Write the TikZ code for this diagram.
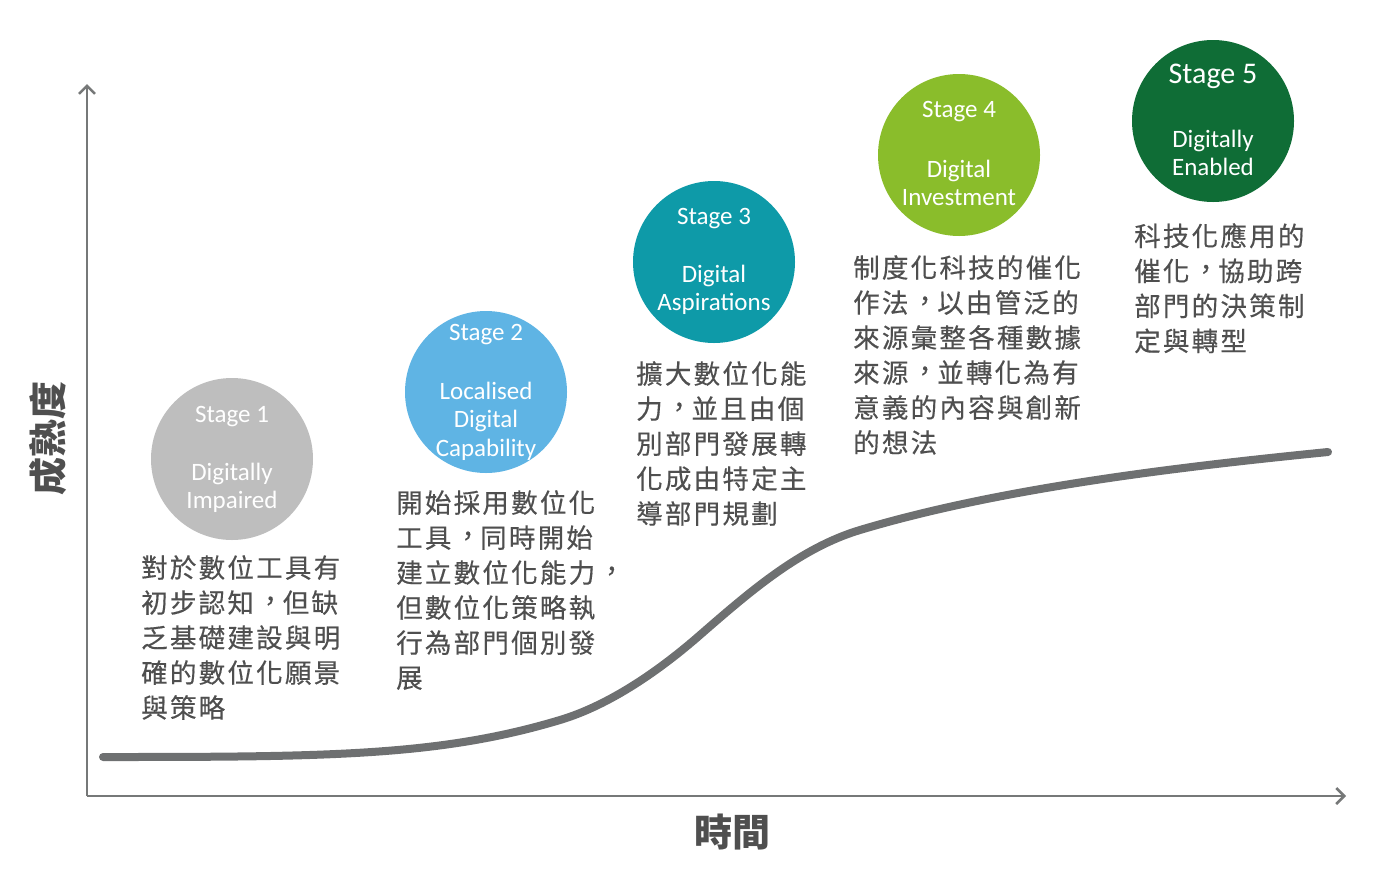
\documentclass[tikz,border=0pt]{standalone}
\usepackage{fontspec}
\newfontfamily\cjk[Script=CJK, Language=Chinese Traditional, LetterSpace=8.5, FakeBold=0.4]{Noto Sans CJK TC}
\newfontfamily\cjkbold[Script=CJK, Language=Chinese Traditional]{Noto Sans CJK TC}
\newfontfamily\latfont{Carlito}
\newcommand\zhcomma{\makebox[1.085em][l]{\hspace{0.12em}\raisebox{0.08em}{，}}}
\usetikzlibrary{arrows.meta}
\definecolor{axisgray}{HTML}{767878}
\definecolor{curvegray}{HTML}{6E7071}
\definecolor{textgray}{HTML}{4F4F4F}
\definecolor{cone}{HTML}{BEBEBE}
\definecolor{ctwo}{HTML}{5FB4E4}
\definecolor{cthree}{HTML}{0E9AA8}
\definecolor{cfour}{HTML}{8ABD2B}
\definecolor{cfive}{HTML}{0F6D36}
\tikzset{
  axis/.style={draw=axisgray, line width=2.5pt, -{Straight Barb[length=8pt,width=16pt,line width=2.5pt]}},
  stage/.style={circle, minimum size=162pt, inner sep=0pt},
  stxt/.style={text=white, align=center, inner sep=0pt, font=\latfont\fontsize{25}{28.5}\selectfont},
  desc/.style={anchor=north west, inner sep=0pt, align=left, text=textgray, font=\cjk\fontsize{26.5}{35}\selectfont},
  axlabel/.style={text=textgray, inner sep=0pt, font=\cjkbold\bfseries\fontsize{38}{42}\selectfont}
}
\begin{document}
\begin{tikzpicture}[x=1pt,y=-1pt]
\useasboundingbox (0,0) rectangle (1394,884);
% axes
\coordinate (origin) at (87,796);
\coordinate (ytop) at (87,84);
\coordinate (xend) at (1346,796);
\draw[axis] (origin) -- (ytop);
\draw[axis] (origin) -- (xend);
\node[axlabel, rotate=90] (ylab) at (48,438) {成熟度};
\node[axlabel] (xlab) at (732,832) {時間};
% curve
\coordinate (c0) at (103,757);
\coordinate (c1) at (560,720);
\coordinate (c2) at (700,635);
\coordinate (c3) at (860,530);
\coordinate (c4) at (1328,452);
\draw[curvegray, line width=8pt, line cap=round]
  (c0) .. controls (330,757) and (440,756) .. (c1)
       .. controls (610,705) and (660,670) .. (c2)
       .. controls (750,591.5) and (800,548) .. (c3)
       .. controls (1000,488) and (1178,467) .. (c4);
% circles
\node[stage, fill=cone]   (s1) at (232,459) {};
\node[stage, fill=ctwo]   (s2) at (486,392) {};
\node[stage, fill=cthree] (s3) at (714,262) {};
\node[stage, fill=cfour]  (s4) at (959,155) {};
\node[stage, fill=cfive]  (s5) at (1213,121) {};
% circle texts
\node[stxt, yshift=42pt] (s1t) at (s1) {Stage 1};
\node[stxt, yshift=-29pt] (s1b) at (s1) {Digitally\\Impaired};
\node[stxt, yshift=57pt] (s2t) at (s2) {Stage 2};
\node[stxt, yshift=-29pt] (s2b) at (s2) {Localised\\Digital\\Capability};
\node[stxt, yshift=43pt] (s3t) at (s3) {Stage 3};
\node[stxt, yshift=-28pt] (s3b) at (s3) {Digital\\Aspirations};
\node[stxt, yshift=43pt] (s4t) at (s4) {Stage 4};
\node[stxt, yshift=-28pt] (s4b) at (s4) {Digital\\Investment};
\node[stxt, yshift=45pt, font=\latfont\fontsize{30}{32}\selectfont] (s5t) at (s5) {Stage 5};
\node[stxt, yshift=-32pt] (s5b) at (s5) {Digitally\\Enabled};
% descriptions
\node[desc] (d1) at (141,555) {對於數位工具有\\初步認知\zhcomma 但缺\\乏基礎建設與明\\確的數位化願景\\與策略};
\node[desc] (d2) at (396,490) {開始採用數位化\\工具\zhcomma 同時開始\\建立數位化能力\zhcomma\\但數位化策略執\\行為部門個別發\\展};
\node[desc] (d3) at (636,361) {擴大數位化能\\力\zhcomma 並且由個\\別部門發展轉\\化成由特定主\\導部門規劃};
\node[desc] (d4) at (853,255) {制度化科技的催化\\作法\zhcomma 以由管泛的\\來源彙整各種數據\\來源\zhcomma 並轉化為有\\意義的內容與創新\\的想法};
\node[desc] (d5) at (1134,223) {科技化應用的\\催化\zhcomma 協助跨\\部門的決策制\\定與轉型};
\end{tikzpicture}
\end{document}
